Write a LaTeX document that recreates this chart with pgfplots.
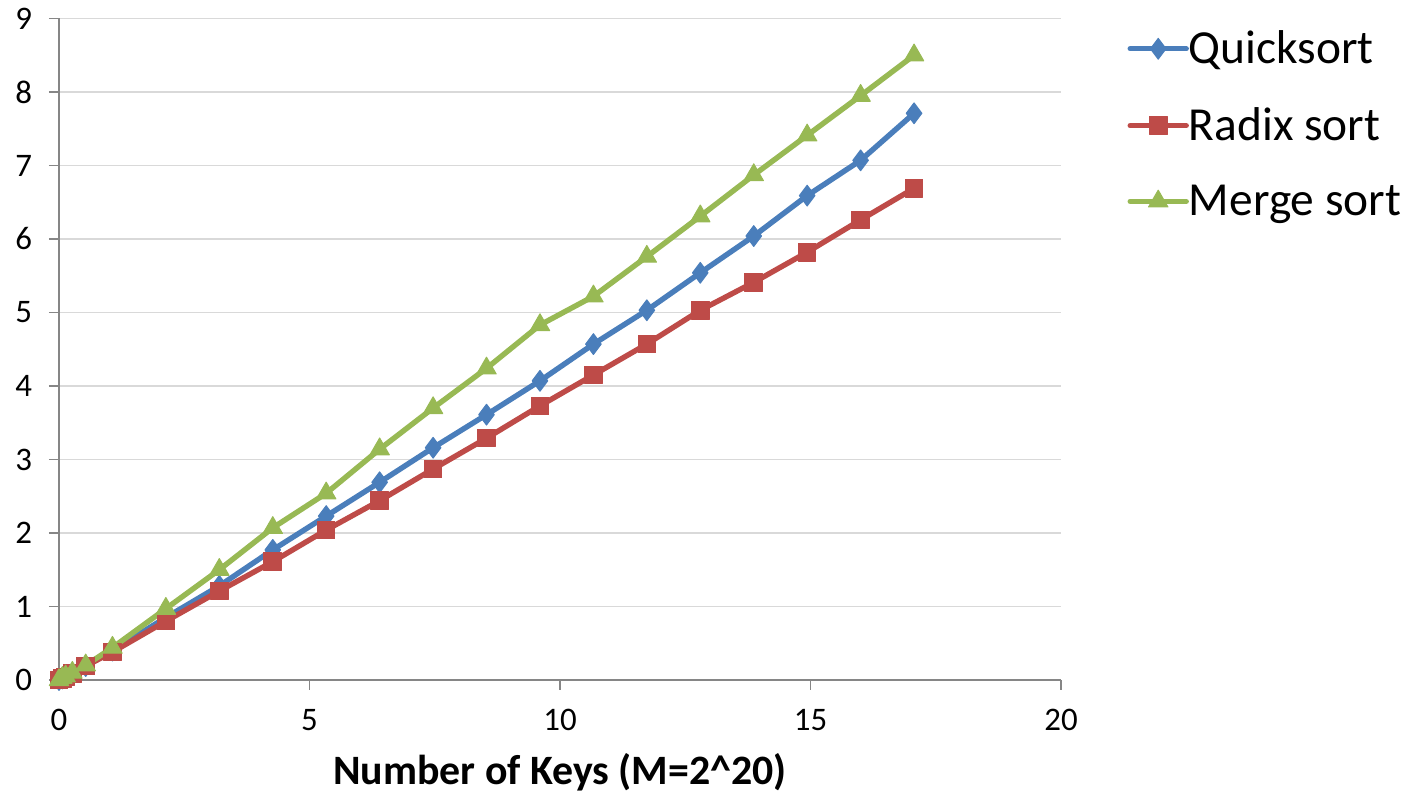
\documentclass[border=0pt]{standalone}
\usepackage{pgfplots}
\pgfplotsset{compat=1.18}
\usepackage{fontspec}
\setmainfont{Carlito}
\definecolor{qblue}{HTML}{4A7EBB}
\definecolor{rred}{HTML}{BE4B48}
\definecolor{mgreen}{HTML}{98B954}
\definecolor{gridgray}{HTML}{D9D9D9}
\definecolor{axgray}{HTML}{868686}
\begin{document}
\begin{tikzpicture}
\begin{axis}[
  name=ax,
  scale only axis,
  width=501bp, height=330.75bp,
  xmin=0, xmax=20, ymin=0, ymax=9,
  xtick={0,5,10,15,20}, ytick={0,1,...,9},
  axis lines*=left,
  axis line style={axgray, line width=0.9bp, -},
  tick align=outside,
  major tick length=5bp,
  tick style={axgray, line width=0.9bp},
  ymajorgrids,
  grid style={gridgray, line width=0.9bp},
  clip=false,
  /pgf/number format/assume math mode=true,
  tick label style={font=\fontsize{16.5}{19}\selectfont},
  xticklabel style={yshift=-6bp},
  yticklabel style={xshift=-5bp},
  xlabel={Number of Keys (M=2\textasciicircum 20)},
  xlabel style={at={(axis description cs:0.5,0)}, anchor=north, inner sep=0pt, yshift=-36.5bp, font=\fontsize{21}{25}\selectfont\bfseries},
  legend style={at={(1.066,0.982)}, anchor=north west, draw=none, fill=none,
     font=\fontsize{23.8}{28}\selectfont, inner sep=0pt, row sep=20.5bp,
     nodes={inner sep=0pt, anchor=west}},
  legend cell align=left,
  legend image code/.code={\draw[#1, mark repeat=2, mark phase=2] plot coordinates {(0bp,0bp) (14bp,0bp) (28bp,0bp)};},
  every axis plot/.append style={line width=2.7bp, line join=round, line cap=round},
]
\addplot[qblue, mark=diamond*, mark size=5.2bp, mark options={solid, fill=qblue, draw=qblue, line width=0.5bp}] coordinates {
(0,0) (0.067,0.02) (0.133,0.04) (0.267,0.09) (0.533,0.19) (1.067,0.40) (2.133,0.85) (3.2,1.28) (4.267,1.77) (5.333,2.23) (6.4,2.69) (7.467,3.16) (8.533,3.61) (9.6,4.07) (10.667,4.57) (11.733,5.03) (12.8,5.54) (13.867,6.04) (14.933,6.59) (16,7.07) (17.067,7.71)
};
\addlegendentry{Quicksort}
\addplot[rred, mark=square*, mark size=4.4bp, mark options={solid, fill=rred, draw=rred, line width=0.5bp}] coordinates {
(0,0) (0.067,0.02) (0.133,0.04) (0.267,0.09) (0.533,0.19) (1.067,0.38) (2.133,0.80) (3.2,1.21) (4.267,1.61) (5.333,2.04) (6.4,2.44) (7.467,2.87) (8.533,3.29) (9.6,3.73) (10.667,4.15) (11.733,4.57) (12.8,5.03) (13.867,5.41) (14.933,5.82) (16,6.26) (17.067,6.69)
};
\addlegendentry{Radix sort}
\addplot[mgreen, mark=triangle*, mark size=5.6bp, mark options={solid, fill=mgreen, draw=mgreen, line width=0.5bp}] coordinates {
(0,0) (0.067,0.03) (0.133,0.05) (0.267,0.10) (0.533,0.20) (1.067,0.44) (2.133,0.97) (3.2,1.50) (4.267,2.07) (5.333,2.54) (6.4,3.14) (7.467,3.70) (8.533,4.24) (9.6,4.83) (10.667,5.22) (11.733,5.76) (12.8,6.31) (13.867,6.87) (14.933,7.41) (16,7.95) (17.067,8.50)
};
\addlegendentry{Merge sort}
\end{axis}
\pgfresetboundingbox
\path[use as bounding box] ([shift={(-29.5bp,-57bp)}]ax.south west) rectangle ([shift={(173.5bp,9.25bp)}]ax.north east);
\end{tikzpicture}
\end{document}
